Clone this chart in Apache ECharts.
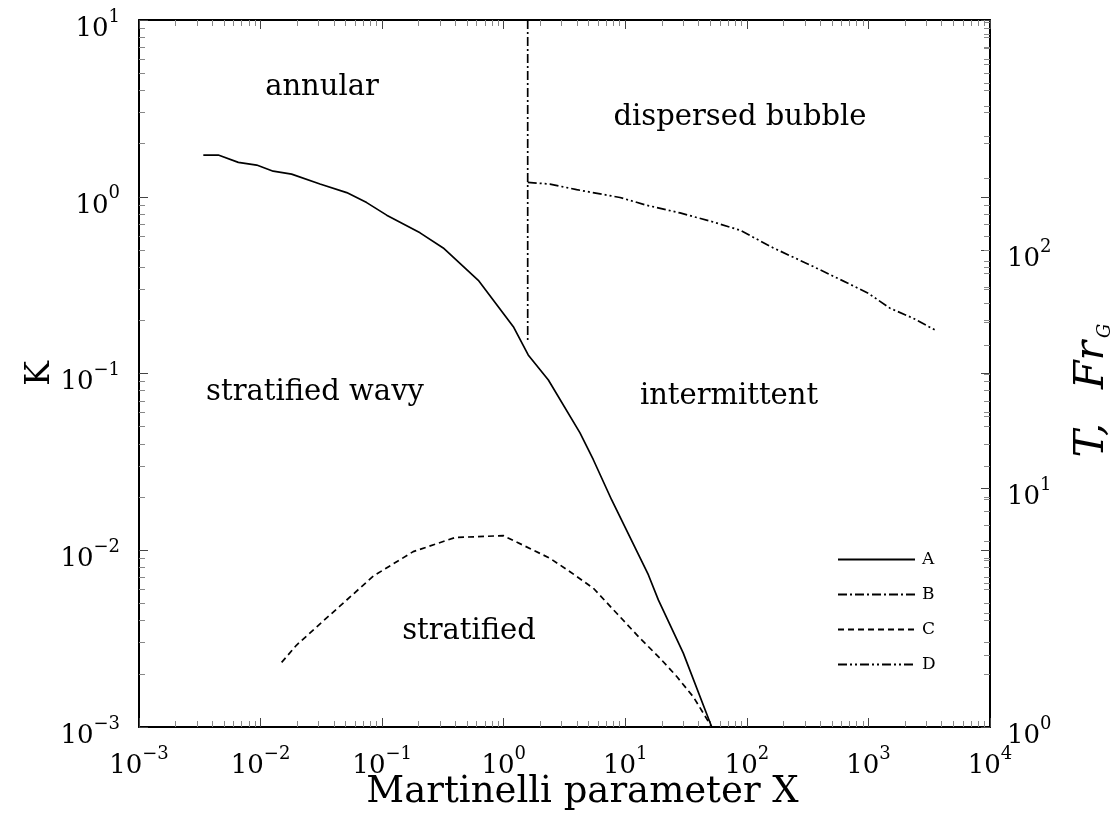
<!DOCTYPE html>
<html>
<head>
<meta charset="utf-8">
<script src="https://cdn.jsdelivr.net/npm/echarts@6/dist/echarts.min.js"></script>
<style>
  html, body { margin: 0; padding: 0; background: #fff; }
  #chart { width: 1117px; height: 823px; }
</style>
</head>
<body>
<div id="chart"></div>
<script>
// Horizontal two-phase flow pattern map against the Martinelli parameter X

// Decade exponents used for the tick labels
const xTickExponents = [-3, -2, -1, 0, 1, 2, 3, 4];
const kTickExponents = [-3, -2, -1, 0, 1];
const tTickExponents = [0, 1, 2];
const tAxisMax = 921;

// A: stratified -> intermittent / annular (Fr_G, right axis)
const curveAX = [0.00338, 0.00449, 0.00656, 0.00929, 0.0127, 0.0180, 0.0308, 0.0511, 0.0746,
                 0.109, 0.205, 0.318, 0.618, 1.20, 1.59, 2.33, 4.24, 5.46, 7.73, 15.5, 18.7, 30.0, 51.4];
const curveAY = [250, 250, 233, 227, 214, 208, 189, 174, 158,
                 140, 118, 102, 74.6, 47.7, 36.3, 28.5, 17.1, 13.2, 8.95, 4.34, 3.41, 2.04, 1.0];

// B: annular -> intermittent (K, left axis)
const curveBX = [1.575, 1.575];
const curveBY = [10, 0.149];

// C: stratified smooth -> stratified wavy (K, left axis)
const curveCX = [0.0149, 0.0198, 0.0290, 0.0511, 0.0845, 0.180, 0.397, 0.993, 2.40,
                 3.51, 5.46, 8.50, 13.2, 19.3, 26.5, 36.3, 51.4];
const curveCY = [0.00232, 0.00291, 0.00369, 0.00523, 0.00714, 0.00982, 0.0118, 0.0121, 0.00901,
                 0.00756, 0.00610, 0.00440, 0.00318, 0.00245, 0.00193, 0.00148, 0.001];

// D: intermittent -> dispersed bubble (T, right axis)
const curveDX = [1.575, 2.40, 3.98, 9.05, 15.0, 28.2, 53.0, 87.9, 165, 331, 706, 998, 1506, 2340, 3530];
const curveDY = [192, 189, 179, 166, 154, 143, 131, 121, 102, 86.5, 71.8, 65.8, 57.0, 51.7, 46.2];

const seriesNames = ['A', 'B', 'C', 'D'];
const regionNames = ['annular', 'dispersed bubble', 'stratified wavy', 'intermittent', 'stratified'];

const FONT = 'DejaVu Serif';

function pairs(xs, ys) { return xs.map((x, i) => [x, ys[i]]); }

function decadeLabel(exps) {
  return function (v) {
    const e = Math.log10(v);
    const r = Math.round(e);
    if (Math.abs(e - r) > 1e-6 || exps.indexOf(r) < 0) return '';
    return '{b|10}{e|' + (r < 0 ? '\u2212' + (-r) : r) + '}';
  };
}

// minor tick values 2..9 per decade between lo and hi exponents
function minorValues(lo, hi) {
  const out = [];
  for (let e = lo; e < hi; e++) {
    for (let m = 2; m <= 9; m++) out.push(m * Math.pow(10, e));
  }
  return out;
}

const labelRich = {
  b: { fontFamily: FONT, fontSize: 26, color: '#000', lineHeight: 34, verticalAlign: 'bottom' },
  e: { fontFamily: FONT, fontSize: 18, color: '#000', lineHeight: 14, verticalAlign: 'top' }
};

const spine = { show: true, lineStyle: { color: '#000', width: 2 } };
const majorTick = { show: true, inside: true, length: 9, lineStyle: { color: '#444', width: 1 } };
const minorTick = { show: true, splitNumber: 9, length: 6, lineStyle: { color: '#888', width: 1 } };

function lineSeries(name, xs, ys, yIndex, dash) {
  return {
    type: 'line', name: name, xAxisIndex: 0, yAxisIndex: yIndex,
    data: pairs(xs, ys), symbol: 'none', showSymbol: false, silent: true,
    lineStyle: { color: '#000', width: 1.7, type: dash },
    itemStyle: { color: '#000' },
    z: 3
  };
}

const chart = echarts.init(document.getElementById('chart'), null, { renderer: 'canvas' });

chart.setOption({
  animation: false,
  backgroundColor: '#fff',
  grid: { left: 139, right: 127, top: 20, bottom: 96, containLabel: false, outerBoundsMode: 'none' },
  xAxis: [
    {
      type: 'log', logBase: 10, min: 1e-3, max: 1e4, position: 'bottom',
      axisLine: spine, axisTick: majorTick, minorTick: minorTick,
      splitLine: { show: false }, minorSplitLine: { show: false },
      axisLabel: { formatter: decadeLabel(xTickExponents), rich: labelRich, margin: 18 },
      name: 'Martinelli parameter X', nameLocation: 'middle', nameGap: 47, nameMoveOverlap: false,
      nameTextStyle: { fontFamily: FONT, fontSize: 37, color: '#000', padding: [0, 0, 0, 36] }
    },
    {
      type: 'log', logBase: 10, min: 1e-3, max: 1e4, position: 'top',
      axisLine: spine, axisTick: majorTick, minorTick: minorTick,
      splitLine: { show: false }, axisLabel: { show: false }
    }
  ],
  yAxis: [
    {
      type: 'log', logBase: 10, min: 1e-3, max: 10, position: 'left',
      axisLine: spine, axisTick: majorTick, minorTick: minorTick,
      splitLine: { show: false }, minorSplitLine: { show: false },
      axisLabel: { formatter: decadeLabel(kTickExponents), rich: labelRich, margin: 19, padding: [10, 0, 0, 0] },
      name: 'K', nameLocation: 'middle', nameRotate: 90, nameGap: 82, nameMoveOverlap: false,
      nameTextStyle: { fontFamily: FONT, fontSize: 33, color: '#000' }
    },
    {
      type: 'log', logBase: 10, min: 1, max: tAxisMax, position: 'right',
      axisLine: spine, axisTick: majorTick, minorTick: { show: false },
      splitLine: { show: false },
      axisLabel: { formatter: decadeLabel(tTickExponents), rich: labelRich, margin: 17,
                   padding: [10, 0, 0, 0], showMaxLabel: false },
      name: '{i|T,}{gap| }{i|Fr}{s|G}', nameLocation: 'middle', nameRotate: 90, nameGap: 80,
      nameMoveOverlap: false,
      nameTextStyle: {
        padding: [0, 34, 0, 0],
        rich: {
          i: { fontFamily: FONT, fontStyle: 'italic', fontSize: 41, color: '#000', lineHeight: 44 },
          gap: { fontFamily: FONT, fontSize: 41, width: 34, lineHeight: 44 },
          s: { fontFamily: FONT, fontStyle: 'italic', fontSize: 18, color: '#000', lineHeight: 44,
               verticalAlign: 'bottom', padding: [0, 0, 0, 3] }
        }
      }
    },
    {
      type: 'log', logBase: 10, min: 1, max: tAxisMax, position: 'right',
      axisLine: { show: false },
      axisTick: { show: true, inside: true, length: 6, lineStyle: { color: '#888', width: 1 },
                  customValues: minorValues(0, 3).filter(v => v < tAxisMax) },
      minorTick: { show: false }, splitLine: { show: false }, axisLabel: { show: false }
    },
    {
      type: 'log', logBase: 10, min: 1e-3, max: 10, position: 'right',
      axisLine: { show: false }, axisTick: majorTick, minorTick: minorTick,
      splitLine: { show: false }, axisLabel: { show: false }
    }
  ],
  legend: {
    data: seriesNames, orient: 'vertical', left: 832, top: 546,
    itemWidth: 77, itemHeight: 14, itemGap: 18,
    itemStyle: { opacity: 0 },
    textStyle: { fontFamily: FONT, fontSize: 17, color: '#000', lineHeight: 14, padding: [0, 0, 0, 2] }
  },
  series: [
    lineSeries(seriesNames[0], curveAX, curveAY, 1, 'solid'),
    lineSeries(seriesNames[1], curveBX, curveBY, 0, [9, 3, 2, 3]),
    lineSeries(seriesNames[2], curveCX, curveCY, 0, [6, 4]),
    lineSeries(seriesNames[3], curveDX, curveDY, 1, [9, 3, 2, 3, 2, 3])
  ],
  graphic: [
    [regionNames[0], 322, 87],
    [regionNames[1], 740, 117],
    [regionNames[2], 315, 392],
    [regionNames[3], 729, 396],
    [regionNames[4], 469, 631]
  ].map(([t, x, y]) => ({
    type: 'text', x: x, y: y, silent: true,
    style: { text: t, fill: '#000', fontFamily: FONT, fontSize: 29, align: 'center', verticalAlign: 'middle' }
  }))
});
</script>
</body>
</html>
